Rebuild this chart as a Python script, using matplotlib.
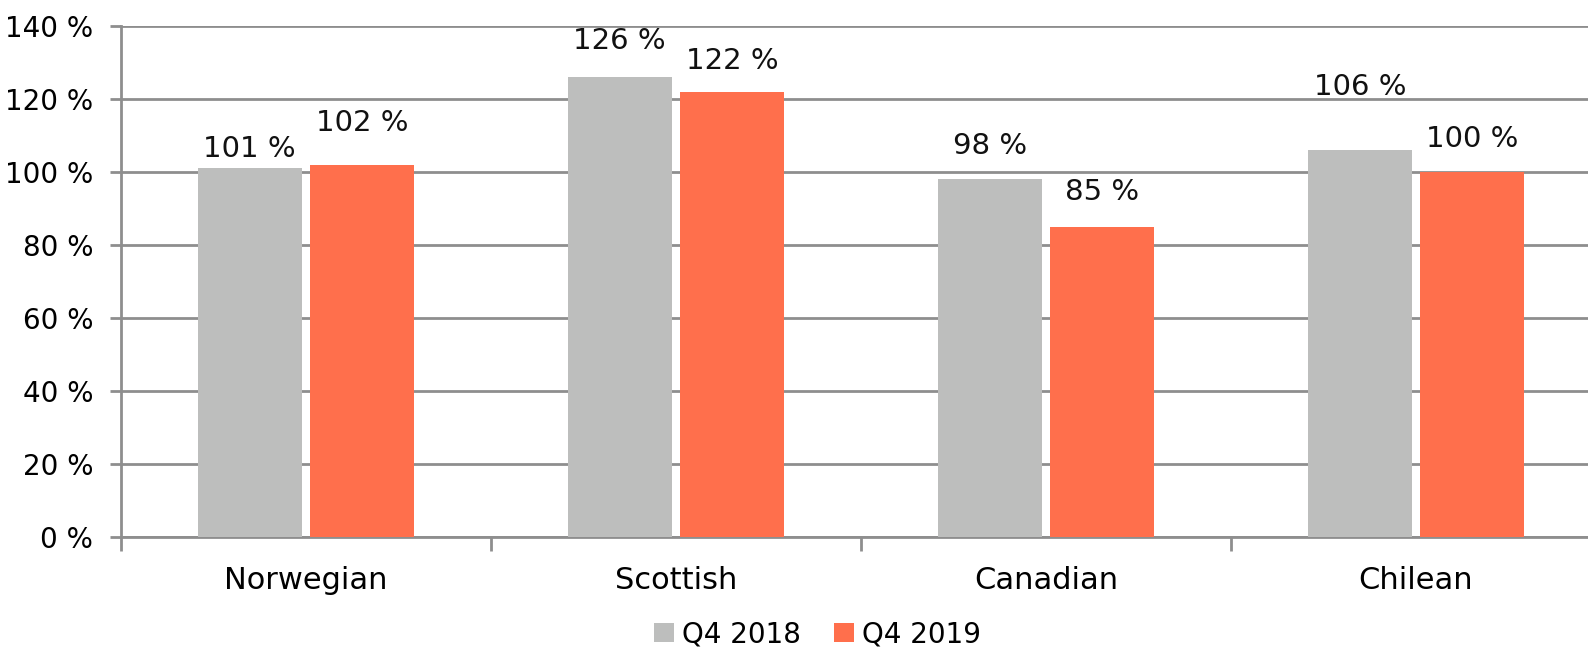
import numpy as np
import matplotlib.pyplot as plt
from matplotlib.ticker import MultipleLocator, FixedLocator

# Salmon price index by origin
origins = ["Norwegian", "Scottish", "Canadian", "Chilean"]
q4_2018 = [101, 126, 98, 106]
q4_2019 = [102, 122, 85, 100]
series_names = ["Q4 2018", "Q4 2019"]

GREY = "#BDBEBD"
ORANGE = "#FF6F4C"
GRID = "#8E8E8E"

# vertical nudge for each value label, in points
lift_2018 = [4, 16, 14, 35]
lift_2019 = [20, 12, 15, 14]

plt.rcParams["font.family"] = ["DejaVu Sans"]

fig = plt.figure(figsize=(15.88, 6.56), dpi=100)
ax = fig.add_axes([0.0762, 0.1814, 0.932, 0.779])

x = np.arange(len(origins))
w = 0.28
off = 0.152

b1 = ax.bar(x - off, q4_2018, w, color=GREY, label=series_names[0], zorder=3)
b2 = ax.bar(x + off, q4_2019, w, color=ORANGE, label=series_names[1], zorder=3)

for bars, vals, lifts in [(b1, q4_2018, lift_2018), (b2, q4_2019, lift_2019)]:
    for rect, v, lift in zip(bars, vals, lifts):
        ax.annotate(f"{v} %", (rect.get_x() + rect.get_width() / 2, v),
                    xytext=(0, lift), textcoords="offset points",
                    ha="center", va="bottom", fontsize=21, color="#111111")

ax.set_ylim(0, 140)
ax.set_xlim(-0.5, len(origins) - 0.5)
ax.yaxis.set_major_locator(MultipleLocator(20))
ax.set_yticklabels([f"{int(t)} %" for t in ax.get_yticks()])
ax.grid(axis="y", color=GRID, linewidth=2, zorder=0)

ax.set_xticks(x)
ax.set_xticklabels(origins)
ax.xaxis.set_minor_locator(FixedLocator(np.arange(len(origins) + 1) - 0.5))
ax.tick_params(axis="x", which="major", length=0, pad=21, labelsize=22)
ax.tick_params(axis="x", which="minor", length=10, width=2, color=GRID)
ax.tick_params(axis="y", length=8, width=2, color=GRID, labelsize=20, pad=12)

for side in ["top", "right"]:
    ax.spines[side].set_visible(False)
for side in ["left", "bottom"]:
    ax.spines[side].set_color(GRID)
    ax.spines[side].set_linewidth(2)

fig.legend(handles=[b1, b2], labels=series_names, loc="center",
           bbox_to_anchor=(0.515, 0.033), ncol=2, frameon=False,
           fontsize=20, handlelength=0.7, handleheight=0.7,
           handletextpad=0.3, columnspacing=1.2)

fig.savefig("out.png", dpi=100)
